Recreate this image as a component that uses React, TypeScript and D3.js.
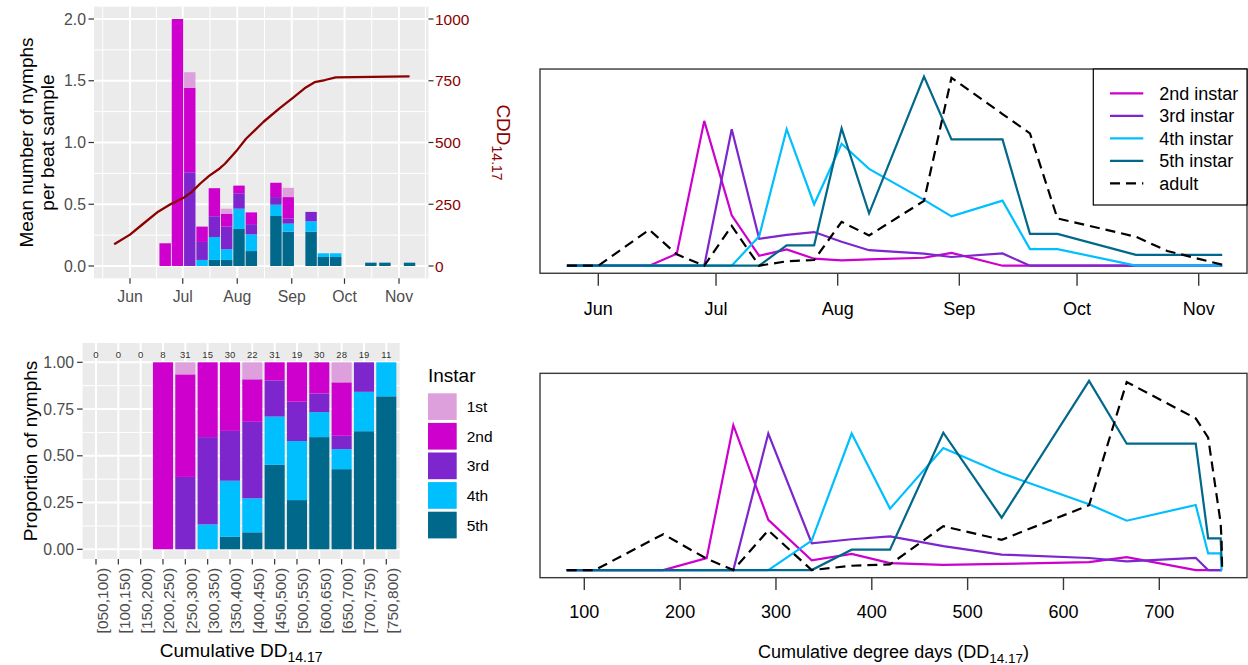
import React from "react";
import * as d3 from "d3";

const FONT = "'Liberation Sans', Arial, Helvetica, sans-serif";

// ---------------- Panel A (top-left): mean nymphs per beat sample ----------------
const barDates = ["2017-06-21", "2017-06-28", "2017-07-05", "2017-07-12", "2017-07-19", "2017-07-26", "2017-08-02", "2017-08-09", "2017-08-23", "2017-08-30", "2017-09-12", "2017-09-19", "2017-09-26", "2017-10-16", "2017-10-24", "2017-11-07"];
const mean1st = [0, 0, 0.125, 0, 0, 0.04, 0, 0, 0, 0.075, 0, 0, 0, 0, 0, 0];
const mean2nd = [0.184, 2.0, 0.685, 0.124, 0.227, 0.105, 0.062, 0.095, 0.116, 0.172, 0, 0, 0, 0, 0, 0];
const mean3rd = [0, 0, 0.759, 0.146, 0.168, 0.183, 0.125, 0.083, 0.062, 0.043, 0.076, 0, 0, 0, 0, 0];
const mean4th = [0, 0, 0, 0.049, 0.186, 0.087, 0.164, 0.135, 0.091, 0.065, 0.084, 0.03, 0.03, 0, 0, 0];
const mean5th = [0, 0, 0, 0, 0.049, 0.049, 0.3, 0.121, 0.405, 0.278, 0.278, 0.073, 0.073, 0.027, 0.027, 0.027];

const cddDates = ["2017-05-23", "2017-06-01", "2017-06-08", "2017-06-17", "2017-06-24", "2017-07-01", "2017-07-06", "2017-07-11", "2017-07-16", "2017-07-22", "2017-07-25", "2017-08-01", "2017-08-06", "2017-08-16", "2017-08-25", "2017-09-02", "2017-09-09", "2017-09-14", "2017-09-20", "2017-09-26", "2017-10-17", "2017-11-07"];
const cddValues = [88, 127, 168, 220, 250, 274, 299, 334, 365, 395, 414, 470, 515, 584, 638, 683, 723, 744, 753, 764, 766, 768];

const monthTicks = ["2017-06-01", "2017-07-01", "2017-08-01", "2017-09-01", "2017-10-01", "2017-11-01"];
const monthLabels = ["Jun", "Jul", "Aug", "Sep", "Oct", "Nov"];
const meanTicks = [0, 0.5, 1, 1.5, 2];
const meanMinor = [0.25, 0.75, 1.25, 1.75];
const cddTicks = [0, 250, 500, 750, 1000];

// ---------------- Panel B (bottom-left): proportion by DD bin ----------------
const ddBins = ["[050,100)", "[100,150)", "[150,200)", "[200,250)", "[250,300)", "[300,350)", "[350,400)", "[400,450)", "[450,500)", "[500,550)", "[600,650)", "[650,700)", "[700,750)", "[750,800)"];
const count1st = [0, 0, 0, 0, 2, 0, 0, 2, 0, 0, 0, 3, 0, 0];
const count2nd = [0, 0, 0, 8, 17, 6, 11, 5, 3, 4, 5, 8, 0, 0];
const count3rd = [0, 0, 0, 0, 12, 7, 8, 9, 6, 4, 3, 2, 3, 0];
const count4th = [0, 0, 0, 0, 0, 2, 9, 4, 8, 6, 4, 3, 4, 2];
const count5th = [0, 0, 0, 0, 0, 0, 2, 2, 14, 5, 18, 12, 12, 9];
const propTicks = [0, 0.25, 0.5, 0.75, 1];
const propMinor = [0.125, 0.375, 0.625, 0.875];

const instars = ["1st", "2nd", "3rd", "4th", "5th"];
const instarColors = ["#DDA0DD", "#CD00CD", "#7D26CD", "#00BFFF", "#00688B"];

// ---------------- Panels C/D (right): relative abundance per sample ----------------
const sampleDates = ["2017-05-24", "2017-06-01", "2017-06-14", "2017-06-21", "2017-06-28", "2017-07-05", "2017-07-12", "2017-07-19", "2017-07-26", "2017-08-02", "2017-08-09", "2017-08-23", "2017-08-30", "2017-09-12", "2017-09-19", "2017-09-26", "2017-10-16", "2017-10-24", "2017-11-07"];
const sampleCDD = [81.6, 111, 182.4, 227.7, 255.5, 292, 337.3, 379, 419, 474.6, 535.5, 626.7, 666, 738, 751, 764, 765, 765.3, 765.5];
const rel2nd = [0, 0, 0, 6.3, 76.6, 26.6, 5.2, 8.6, 3.7, 2.8, 3.3, 4.2, 6.8, 0, 0, 0, 0, 0, 0];
const rel3rd = [0, 0, 0, 0, 0, 72.2, 14.2, 16.3, 17.8, 12.7, 8.2, 6.4, 4.6, 6.5, 0, 0, 0, 0, 0];
const rel4th = [0, 0, 0, 0, 0, 0, 15.6, 72.2, 32.5, 64.5, 51.2, 34.8, 26.1, 34.4, 8.8, 8.8, 0, 0, 0];
const rel5th = [0, 0, 0, 0, 0, 0, 0, 10.8, 10.8, 72.6, 27.7, 100, 66.8, 66.8, 16.8, 16.8, 5.7, 5.7, 5.7];
const relAdult = [0, 0, 19, 6, 0, 21, 0, 2.3, 3.0, 23.2, 16, 34.3, 99.4, 80.2, 70, 25, 15.3, 7.8, 0.5];
const ddTicks = [100, 200, 300, 400, 500, 600, 700];

const lineSeries = [
  { name: "2nd instar", color: "#CD00CD", values: rel2nd, dash: "" },
  { name: "3rd instar", color: "#7D26CD", values: rel3rd, dash: "" },
  { name: "4th instar", color: "#00BFFF", values: rel4th, dash: "" },
  { name: "5th instar", color: "#00688B", values: rel5th, dash: "" },
  { name: "adult", color: "#000000", values: relAdult, dash: "10,6" },
];

const parse = d3.timeParse("%Y-%m-%d");

export default function App() {
  // ---------- A ----------
  const tlX = d3.scaleTime().domain([parse(monthTicks[0])!, parse(monthTicks[5])!]).range([130, 399]);
  const tlY = d3.scaleLinear().domain([0, 2]).range([266, 19]);
  const tlY2 = d3.scaleLinear().domain([0, 1000]).range([266, 19]);
  const A = { x0: 94, x1: 428.5, y0: tlY(2.1), y1: tlY(-0.1) };
  const allMonths = d3.timeMonth.range(new Date(2017, 3, 1), new Date(2017, 11, 2));
  const minorX: Date[] = [];
  for (let i = 0; i < allMonths.length - 1; i++) {
    const m = new Date((allMonths[i].getTime() + allMonths[i + 1].getTime()) / 2);
    const px = tlX(m);
    if (px > A.x0 && px < A.x1) minorX.push(m);
  }
  const keysBottomUp = ["5th", "4th", "3rd", "2nd", "1st"];
  const colorOf: Record<string, string> = {};
  instars.forEach((k, i) => (colorOf[k] = instarColors[i]));
  const tlRows = barDates.map((d, i) => ({
    date: parse(d)!, "1st": mean1st[i], "2nd": mean2nd[i], "3rd": mean3rd[i], "4th": mean4th[i], "5th": mean5th[i],
  }));
  const tlStack = d3.stack<any>().keys(keysBottomUp)(tlRows);
  const cddLine = d3.line<number>()
    .x((_, i) => tlX(parse(cddDates[i])!))
    .y((v) => tlY2(v));

  // ---------- B ----------
  const blX = d3.scalePoint<string>().domain(ddBins).range([96, 386.3]);
  const step = blX.step();
  const blY = d3.scaleLinear().domain([0, 1]).range([549.3, 362.3]);
  const B = { x0: blX(ddBins[0])! - 0.6 * step, x1: blX(ddBins[ddBins.length - 1])! + 0.6 * step, y0: blY(1.103), y1: blY(-0.0515) };
  const totals = ddBins.map((_, i) => count1st[i] + count2nd[i] + count3rd[i] + count4th[i] + count5th[i]);
  const blRows = ddBins.map((b, i) => {
    const t = totals[i] || 1;
    return { bin: b, "1st": count1st[i] / t, "2nd": count2nd[i] / t, "3rd": count3rd[i] / t, "4th": count4th[i] / t, "5th": count5th[i] / t };
  });
  const blStack = d3.stack<any>().keys(keysBottomUp)(blRows);
  const barW = 0.9 * step;

  // ---------- C ----------
  const trX = d3.scaleTime().domain([parse(monthTicks[0])!, parse(monthTicks[5])!]).range([598.3, 1198.7]);
  const trY = d3.scaleLinear().domain([0, 100]).range([265.7, 76.6]);
  const C = { x0: 540, x1: 1247, y0: trY(104), y1: trY(-4) };
  const sDates = sampleDates.map((d) => parse(d)!);

  // ---------- D ----------
  const brX = d3.scaleLinear().domain([100, 700]).range([584.3, 1159.3]);
  const brY = d3.scaleLinear().domain([0, 100]).range([570.1, 380.9]);
  const D = { x0: 540, x1: 1247, y0: brY(104), y1: brY(-4) };

  const tickCol = "#333333";
  const labCol = "#4D4D4D";
  const darkRed = "#8B0000";
  const frameCol = "#3a3a3a";

  return (
    <svg width={1248} height={665} style={{ position: "absolute", left: 0, top: 0, background: "#ffffff" }} fontFamily={FONT}>
      {/* ================= Panel A ================= */}
      <rect x={A.x0} y={A.y0} width={A.x1 - A.x0} height={A.y1 - A.y0} fill="#EBEBEB" />
      {meanMinor.map((v) => (
        <line key={"amy" + v} x1={A.x0} x2={A.x1} y1={tlY(v)} y2={tlY(v)} stroke="#fff" strokeWidth={1} />
      ))}
      {minorX.map((d, i) => (
        <line key={"amx" + i} x1={tlX(d)} x2={tlX(d)} y1={A.y0} y2={A.y1} stroke="#fff" strokeWidth={1} />
      ))}
      {meanTicks.map((v) => (
        <line key={"aMy" + v} x1={A.x0} x2={A.x1} y1={tlY(v)} y2={tlY(v)} stroke="#fff" strokeWidth={2} />
      ))}
      {monthTicks.map((d) => (
        <line key={"aMx" + d} x1={tlX(parse(d)!)} x2={tlX(parse(d)!)} y1={A.y0} y2={A.y1} stroke="#fff" strokeWidth={2} />
      ))}
      {tlStack.map((layer) =>
        layer.map((p, i) => {
          const h = tlY(p[0]) - tlY(p[1]);
          if (h <= 0.01) return null;
          const d = tlRows[i].date;
          const xa = tlX(d3.timeHour.offset(d, -78));
          const xb = tlX(d3.timeHour.offset(d, 78));
          return <rect key={layer.key + i} x={xa} y={tlY(p[1])} width={xb - xa} height={h} fill={colorOf[layer.key]} />;
        })
      )}
      <path d={cddLine(cddValues) || ""} fill="none" stroke={darkRed} strokeWidth={2.3} strokeLinejoin="round" />
      {/* A axes */}
      {meanTicks.map((v) => (
        <g key={"aty" + v}>
          <line x1={A.x0 - 5.5} x2={A.x0} y1={tlY(v)} y2={tlY(v)} stroke={tickCol} strokeWidth={1.2} />
          <text x={A.x0 - 8} y={tlY(v) + 5.5} textAnchor="end" fontSize={15.8} fill={labCol}>{d3.format(".1f")(v)}</text>
        </g>
      ))}
      {cddTicks.map((v) => (
        <g key={"aty2" + v}>
          <line x1={A.x1} x2={A.x1 + 5} y1={tlY2(v)} y2={tlY2(v)} stroke={tickCol} strokeWidth={1.2} />
          <text x={A.x1 + 6.5} y={tlY2(v) + 5.5} textAnchor="start" fontSize={15.5} fill={darkRed}>{v}</text>
        </g>
      ))}
      {monthTicks.map((d, i) => (
        <g key={"atx" + d}>
          <line x1={tlX(parse(d)!)} x2={tlX(parse(d)!)} y1={A.y1} y2={A.y1 + 5.5} stroke={tickCol} strokeWidth={1.2} />
          <text x={tlX(parse(d)!)} y={302} textAnchor="middle" fontSize={15.8} fill={labCol}>{monthLabels[i]}</text>
        </g>
      ))}
      <text transform={`translate(32.5,${(A.y0 + A.y1) / 2}) rotate(-90)`} textAnchor="middle" fontSize={19} fill="#000">Mean number of nymphs</text>
      <text transform={`translate(54,${(A.y0 + A.y1) / 2}) rotate(-90)`} textAnchor="middle" fontSize={19} fill="#000">per beat sample</text>
      <text transform={`translate(497,${(A.y0 + A.y1) / 2}) rotate(90)`} textAnchor="middle" fontSize={19} fill={darkRed}>
        CDD<tspan dy={5} fontSize={14}>14.17</tspan>
      </text>

      {/* ================= Panel B ================= */}
      <rect x={B.x0} y={B.y0} width={B.x1 - B.x0} height={B.y1 - B.y0} fill="#EBEBEB" />
      {propMinor.map((v) => (
        <line key={"bmy" + v} x1={B.x0} x2={B.x1} y1={blY(v)} y2={blY(v)} stroke="#fff" strokeWidth={1} />
      ))}
      {propTicks.map((v) => (
        <line key={"bMy" + v} x1={B.x0} x2={B.x1} y1={blY(v)} y2={blY(v)} stroke="#fff" strokeWidth={2} />
      ))}
      {ddBins.map((b) => (
        <line key={"bMx" + b} x1={blX(b)!} x2={blX(b)!} y1={B.y0} y2={B.y1} stroke="#fff" strokeWidth={2} />
      ))}
      {blStack.map((layer) =>
        layer.map((p, i) => {
          if (totals[i] === 0) return null;
          const h = blY(p[0]) - blY(p[1]);
          if (h <= 0.01) return null;
          return (
            <rect key={layer.key + i} x={blX(ddBins[i])! - barW / 2} y={blY(p[1])} width={barW} height={h}
              fill={colorOf[layer.key]} />
          );
        })
      )}
      {ddBins.map((b, i) => (
        <text key={"bn" + b} x={blX(b)!} y={blY(1.04) + 3.4} textAnchor="middle" fontSize={9.5} fill="#333">{totals[i]}</text>
      ))}
      {propTicks.map((v) => (
        <g key={"bty" + v}>
          <line x1={B.x0 - 5.5} x2={B.x0} y1={blY(v)} y2={blY(v)} stroke={tickCol} strokeWidth={1.2} />
          <text x={B.x0 - 8.5} y={blY(v) + 5.5} textAnchor="end" fontSize={15.8} fill={labCol}>{d3.format(".2f")(v)}</text>
        </g>
      ))}
      {ddBins.map((b) => (
        <g key={"btx" + b}>
          <line x1={blX(b)!} x2={blX(b)!} y1={B.y1} y2={B.y1 + 5.5} stroke={tickCol} strokeWidth={1.2} />
          <text transform={`translate(${blX(b)! + 11.5},${B.y1 + 9}) rotate(-90)`} textAnchor="end" fontSize={15.5} fill={labCol}>{b}</text>
        </g>
      ))}
      <text transform={`translate(36.5,${(B.y0 + B.y1) / 2}) rotate(-90)`} textAnchor="middle" fontSize={19} fill="#000">Proportion of nymphs</text>
      <text x={(B.x0 + B.x1) / 2} y={657} textAnchor="middle" fontSize={19} fill="#000">
        Cumulative DD<tspan dy={5} fontSize={14}>14.17</tspan>
      </text>
      {/* B legend */}
      <text x={428} y={381.5} fontSize={19} fill="#000">Instar</text>
      {instars.map((k, i) => (
        <g key={"lg" + k}>
          <rect x={428} y={393.3 + i * 29.6} width={28.7} height={26.7} fill={instarColors[i]} />
          <text x={466.7} y={393.3 + i * 29.6 + 13.35 + 5.5} fontSize={15.5} fill="#000">{k}</text>
        </g>
      ))}

      {/* ================= Panel C ================= */}
      {lineSeries.map((s) => {
        const gen = d3.line<number>().x((_, i) => trX(sDates[i])).y((v) => trY(v));
        return <path key={"c" + s.name} d={gen(s.values) || ""} fill="none" stroke={s.color} strokeWidth={2.2}
          strokeDasharray={s.dash || undefined} strokeLinejoin="miter" />;
      })}
      <rect x={C.x0} y={C.y0} width={C.x1 - C.x0} height={C.y1 - C.y0} fill="none" stroke={frameCol} strokeWidth={1.4} />
      {monthTicks.map((d, i) => (
        <g key={"ctx" + d}>
          <line x1={trX(parse(d)!)} x2={trX(parse(d)!)} y1={C.y1} y2={C.y1 + 12.4} stroke={frameCol} strokeWidth={1.4} />
          <text x={trX(parse(d)!)} y={315} textAnchor="middle" fontSize={18} fill="#000">{monthLabels[i]}</text>
        </g>
      ))}
      {/* C legend */}
      <rect x={1093.3} y={C.y0} width={C.x1 - 1093.3} height={205 - C.y0} fill="#fff" stroke="#000" strokeWidth={1.2} />
      {lineSeries.map((s, i) => (
        <g key={"cl" + s.name}>
          <line x1={1110} x2={1143.3} y1={93.3 + i * 22.5} y2={93.3 + i * 22.5} stroke={s.color} strokeWidth={2.2}
            strokeDasharray={s.dash || undefined} />
          <text x={1159.3} y={93.3 + i * 22.5 + 6.5} fontSize={18} fill="#000">{s.name}</text>
        </g>
      ))}

      {/* ================= Panel D ================= */}
      {lineSeries.map((s) => {
        const gen = d3.line<number>().x((_, i) => brX(sampleCDD[i])).y((v) => brY(v));
        return <path key={"d" + s.name} d={gen(s.values) || ""} fill="none" stroke={s.color} strokeWidth={2.2}
          strokeDasharray={s.dash || undefined} strokeLinejoin="miter" />;
      })}
      <rect x={D.x0} y={D.y0} width={D.x1 - D.x0} height={D.y1 - D.y0} fill="none" stroke={frameCol} strokeWidth={1.4} />
      {ddTicks.map((v) => (
        <g key={"dtx" + v}>
          <line x1={brX(v)} x2={brX(v)} y1={D.y1} y2={D.y1 + 12.4} stroke={frameCol} strokeWidth={1.4} />
          <text x={brX(v)} y={618} textAnchor="middle" fontSize={18} fill="#000">{v}</text>
        </g>
      ))}
      <text x={(D.x0 + D.x1) / 2} y={658} textAnchor="middle" fontSize={18} fill="#000">
        Cumulative degree days (DD<tspan dy={5} fontSize={13.5}>14.17</tspan><tspan dy={-5}>)</tspan>
      </text>
    </svg>
  );
}
